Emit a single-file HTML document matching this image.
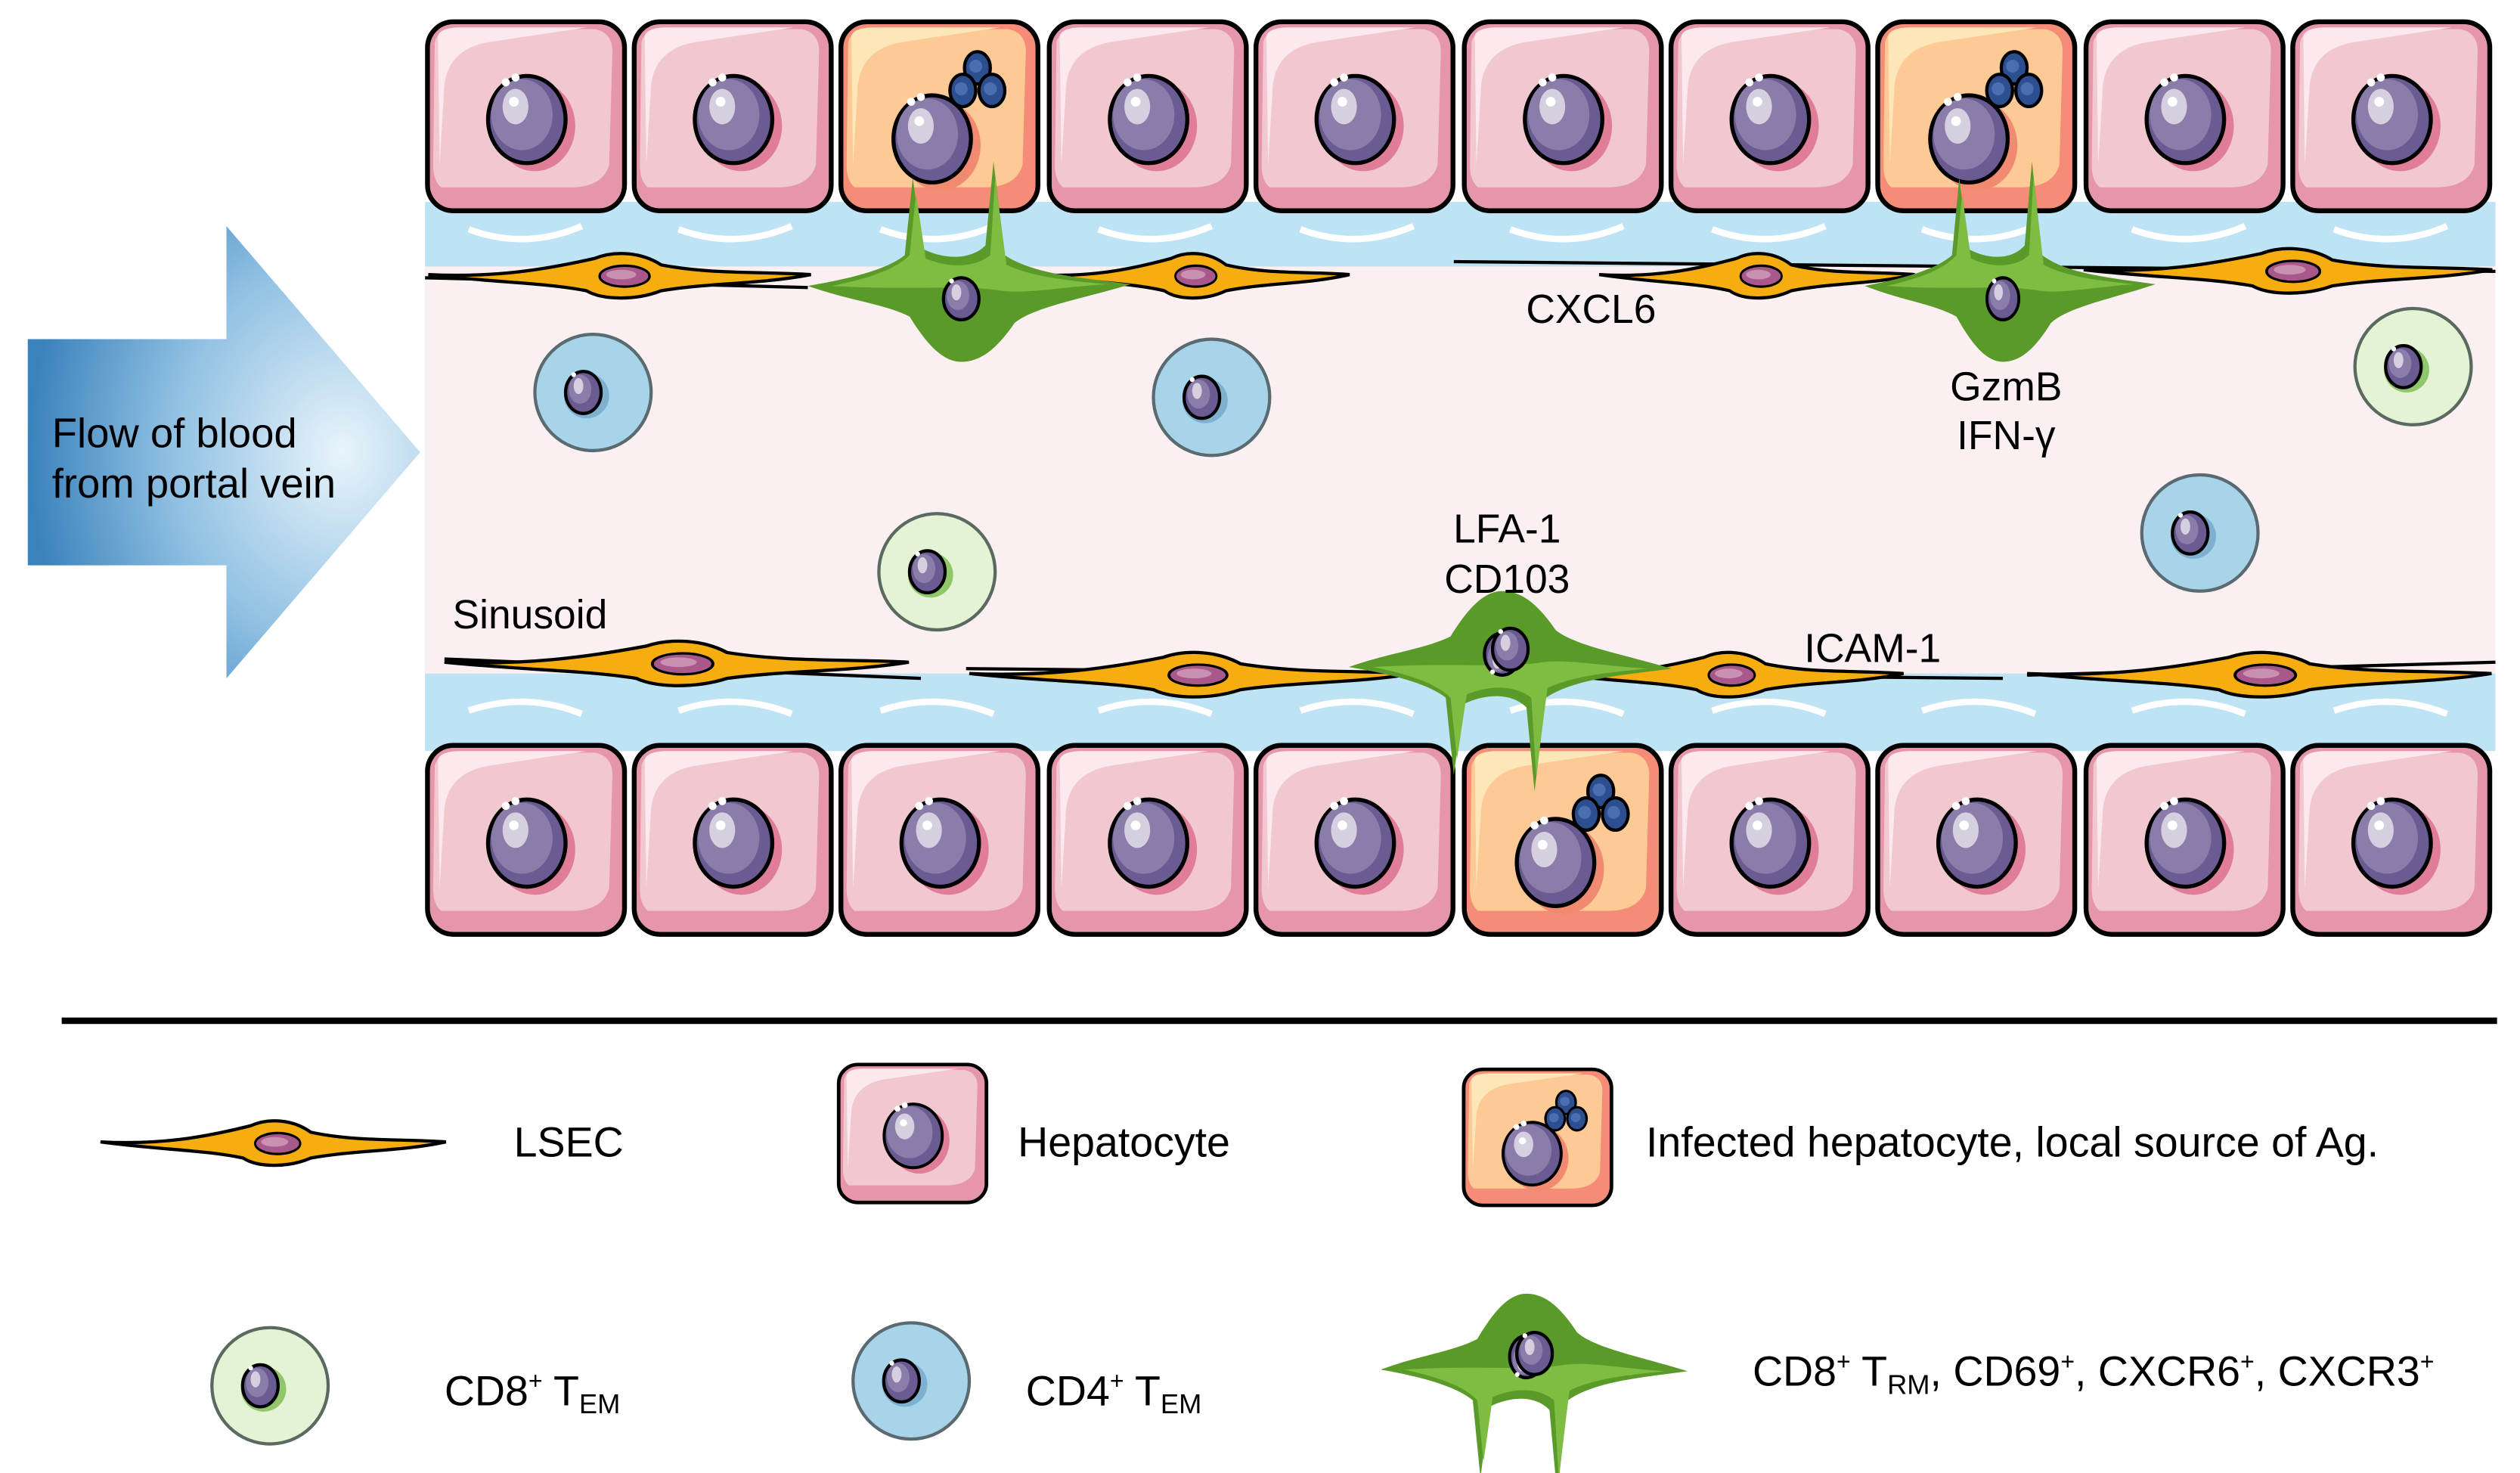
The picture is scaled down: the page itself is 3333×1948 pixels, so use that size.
<!DOCTYPE html>
<html><head><meta charset="utf-8"><style>
html,body{margin:0;padding:0;background:#fff}
svg{display:block}
text{font-family:"Liberation Sans",sans-serif;fill:#000}
</style></head><body>
<svg width="3333" height="1948" viewBox="0 0 1560 912" xmlns="http://www.w3.org/2000/svg">
<defs>
<radialGradient id="ag" cx="0.8" cy="0.5" r="0.8">
<stop offset="0" stop-color="#e8f4fb"/><stop offset="0.55" stop-color="#8fc0e2"/><stop offset="1" stop-color="#3a82bc"/></radialGradient>
<g id="nuc">
<ellipse cx="0" cy="0" rx="24" ry="27" fill="#6a5b93" stroke="#000" stroke-width="2.5"/>
<ellipse cx="-3" cy="-3" rx="19" ry="22" fill="#8a7daa"/>
<ellipse cx="-7" cy="-8" rx="8" ry="11" fill="#d5cfe0"/>
<circle cx="-8" cy="-11" r="3" fill="#fff"/>
<circle cx="-13" cy="-23" r="2.5" fill="#fff"/><circle cx="-7" cy="-26" r="2.5" fill="#fff"/>
</g>
<g id="snuc">
<ellipse cx="0" cy="0" rx="11" ry="13" fill="#6a5b93" stroke="#000" stroke-width="2"/>
<ellipse cx="-2" cy="-2" rx="7" ry="9" fill="#8a7daa"/>
<ellipse cx="-3" cy="-4" rx="3" ry="5" fill="#d5cfe0"/>
<circle cx="-6" cy="-11" r="1.5" fill="#fff"/>
</g>
<g id="hep">
<rect x="1.5" y="1.5" width="122" height="117" rx="16" fill="#e596aa" stroke="#000" stroke-width="3"/>
<path d="M6,14 Q8,6 20,6 L105,6 Q116,8 116,20 L114,90 Q110,104 90,104 L10,104 Q5,100 5,90Z" fill="#f2c8d0"/>
<path d="M8,10 Q10,5 22,5 L100,5 L40,14 Q15,18 12,40 L9,90Z" fill="#fbe9ed"/>
<ellipse cx="68" cy="66" rx="25" ry="28" fill="#e07d98"/>
<use href="#nuc" x="63" y="62"/>
</g>
<g id="inf">
<rect x="1.5" y="1.5" width="122" height="117" rx="16" fill="#f48c78" stroke="#000" stroke-width="3"/>
<path d="M6,14 Q8,6 20,6 L105,6 Q116,8 116,20 L114,90 Q110,104 90,104 L10,104 Q5,100 5,90Z" fill="#fdc994"/>
<path d="M8,10 Q10,5 22,5 L100,5 L40,14 Q15,18 12,40 L9,90Z" fill="#fde6b8"/>
<ellipse cx="63" cy="78" rx="25" ry="28" fill="#f08a70"/>
<use href="#nuc" x="58" y="74"/>
<g stroke="#000" stroke-width="2" fill="#2d4f90">
<ellipse cx="86" cy="30" rx="8" ry="10"/><ellipse cx="77" cy="44" rx="8" ry="10"/><ellipse cx="95" cy="44" rx="8" ry="10"/></g>
<g fill="#4a6fb0"><circle cx="85" cy="29" r="4"/><circle cx="76" cy="43" r="4"/><circle cx="94" cy="43" r="4"/></g>
</g>
<g id="lsec">
<path d="M0,12 C40,14 70,9 100,2 C112,-3 128,-2 140,6 C170,12 200,10 230,12 C200,18 170,17 140,22 C125,28 105,28 95,22 C70,17 40,17 0,12Z" fill="#f5ad10" stroke="#000" stroke-width="2"/>
<ellipse cx="118" cy="13" rx="15" ry="6.5" fill="#a8588a" stroke="#000" stroke-width="1.5"/>
<ellipse cx="116" cy="12" rx="9" ry="3" fill="#c990b2"/>
</g>
<g id="trm">
<path d="M-95,-3 C-65,-8 -45,-14 -35,-22 L-30,-70 L-24,-26 C-12,-20 5,-18 15,-28 L20,-80 L27,-22 C45,-10 75,-8 105,-4 C75,5 45,10 33,20 C22,36 12,44 0,44 C-12,44 -22,32 -32,16 C-48,8 -70,6 -95,-3Z" fill="#5a9a28"/>
<path d="M-80,-3 C-55,-8 -40,-14 -32,-22 L-28,-60 L-22,-20 C-8,-14 8,-14 18,-22 L21,-70 L28,-16 C45,-8 70,-6 90,-4 C60,-2 40,2 25,0 C0,-4 -30,0 -80,-3Z" fill="#7fbc42"/>
<use href="#snuc" x="0" y="5"/>
</g>
<g id="cd4"><circle r="36" fill="#a8d4ea" stroke="#5a6a70" stroke-width="2"/><circle cx="-4" cy="2" r="14" fill="#7fb0d0"/><use href="#snuc" x="-6" y="0"/></g>
<g id="cd8"><circle r="36" fill="#e3f3d3" stroke="#5a6a60" stroke-width="2"/><circle cx="-4" cy="2" r="14" fill="#8fc76a"/><use href="#snuc" x="-6" y="0"/></g>
</defs>

<polygon points="17,210 140,210 140,140 260,280 140,420 140,350 17,350" fill="url(#ag)"/>
<text x="32" y="277" font-size="25.5">Flow of blood</text>
<text x="32" y="308" font-size="25.5">from portal vein</text>

<rect x="263" y="125" width="1282" height="340" fill="#bde3f5"/>
<rect x="263" y="165" width="1282" height="252" fill="#fbf0f1"/>
<g stroke="#fff" stroke-width="4" fill="none">
<path d="M290,142 Q325,155 360,140 M420,142 Q455,155 490,140 M545,142 Q580,155 615,140 M680,142 Q715,155 750,140 M805,142 Q840,155 875,140 M935,142 Q970,155 1005,140 M1060,142 Q1095,155 1130,140 M1190,142 Q1225,155 1260,140 M1320,142 Q1355,155 1390,140 M1445,142 Q1480,155 1515,140"/>
<path d="M290,440 Q325,428 360,442 M420,440 Q455,428 490,442 M545,440 Q580,428 615,442 M680,440 Q715,428 750,442 M805,440 Q840,428 875,442 M935,440 Q970,428 1005,442 M1060,440 Q1095,428 1130,442 M1190,440 Q1225,428 1260,442 M1320,440 Q1355,428 1390,442 M1445,440 Q1480,428 1515,442"/>
</g>
<path d="M263,172 L500,178 M900,162 L1545,168" stroke="#000" stroke-width="2" fill="none"/>
<path d="M275,408 L570,420 M598,414 L1240,420 M1255,418 L1545,410" stroke="#000" stroke-width="2" fill="none"/>

<use href="#hep" x="263" y="12"/><use href="#hep" x="391" y="12"/><use href="#inf" x="519" y="12"/>
<use href="#hep" x="648" y="12"/><use href="#hep" x="776" y="12"/><use href="#hep" x="905" y="12"/>
<use href="#hep" x="1033" y="12"/><use href="#inf" x="1161" y="12"/><use href="#hep" x="1290" y="12"/>
<use href="#hep" x="1418" y="12"/>
<use href="#hep" x="263" y="460"/><use href="#hep" x="391" y="460"/><use href="#hep" x="519" y="460"/>
<use href="#hep" x="648" y="460"/><use href="#hep" x="776" y="460"/><use href="#inf" x="905" y="460"/>
<use href="#hep" x="1033" y="460"/><use href="#hep" x="1161" y="460"/><use href="#hep" x="1290" y="460"/>
<use href="#hep" x="1418" y="460"/>

<use href="#lsec" transform="translate(265,158) scale(1.03,1)"/>
<use href="#lsec" transform="translate(640,158) scale(0.85,1)"/>
<use href="#lsec" transform="translate(990,158) scale(0.85,1)"/>
<use href="#lsec" transform="translate(1290,155) scale(1.1,1)"/>
<use href="#lsec" transform="translate(275,398) scale(1.25,1)"/>
<use href="#lsec" transform="translate(600,405) scale(1.2,1)"/>
<use href="#lsec" transform="translate(960,405) scale(0.95,1)"/>
<use href="#lsec" transform="translate(1255,405) scale(1.25,1)"/>

<use href="#trm" transform="translate(595,180)"/>
<use href="#trm" transform="translate(1240,180) scale(0.9,1)"/>
<g transform="translate(930,410) scale(1,-1)"><use href="#trm"/></g>
<use href="#snuc" x="935" y="402"/>

<use href="#cd4" x="367" y="243"/><use href="#cd4" x="750" y="246"/><use href="#cd4" x="1362" y="330"/>
<use href="#cd8" x="580" y="354"/><use href="#cd8" x="1494" y="227"/>

<g font-size="25">
<text x="985" y="200" text-anchor="middle">CXCL6</text>
<text x="1242" y="248" text-anchor="middle">GzmB</text>
<text x="1242" y="278" text-anchor="middle">IFN-γ</text>
<text x="933" y="336" text-anchor="middle">LFA-1</text>
<text x="933" y="367" text-anchor="middle">CD103</text>
<text x="280" y="389">Sinusoid</text>
<text x="1117" y="410">ICAM-1</text>
</g>

<rect x="38" y="630" width="1508" height="4" fill="#000"/>

<use href="#lsec" transform="translate(62,695) scale(0.93,1)"/>
<g transform="translate(518,658) scale(0.75,0.73)"><use href="#hep"/></g>
<g transform="translate(905,661) scale(0.75,0.72)"><use href="#inf"/></g>
<use href="#cd8" x="167" y="858"/>
<use href="#cd4" x="564" y="855"/>
<use href="#trm" transform="translate(945,845) scale(0.95,-1)"/>
<use href="#snuc" x="950" y="838"/>
<g font-size="26">
<text x="318" y="716">LSEC</text>
<text x="630" y="716">Hepatocyte</text>
<text x="1019" y="716">Infected hepatocyte, local source of Ag.</text>
<text x="275" y="870">CD8<tspan font-size="15" dy="-10">+</tspan><tspan dy="10"> T</tspan><tspan font-size="17" dy="5">EM</tspan></text>
<text x="635" y="870">CD4<tspan font-size="15" dy="-10">+</tspan><tspan dy="10"> T</tspan><tspan font-size="17" dy="5">EM</tspan></text>
<text x="1085" y="858">CD8<tspan font-size="15" dy="-10">+</tspan><tspan dy="10"> T</tspan><tspan font-size="17" dy="5">RM</tspan><tspan dy="-5">, CD69</tspan><tspan font-size="15" dy="-10">+</tspan><tspan dy="10">, CXCR6</tspan><tspan font-size="15" dy="-10">+</tspan><tspan dy="10">, CXCR3</tspan><tspan font-size="15" dy="-10">+</tspan></text>
</g>
</svg>
</body></html>
